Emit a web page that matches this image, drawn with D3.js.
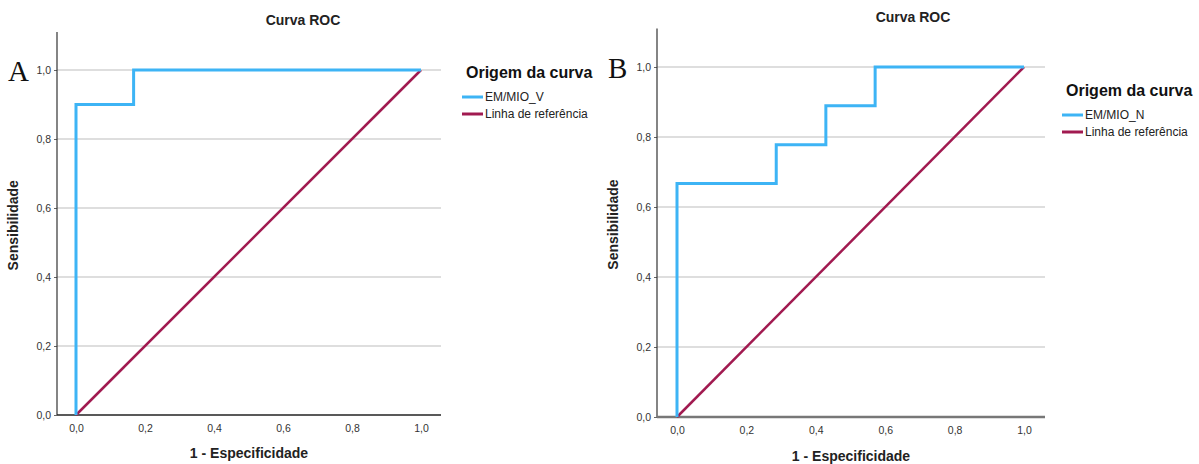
<!DOCTYPE html>
<html>
<head>
<meta charset="utf-8">
<script src="https://cdn.jsdelivr.net/npm/d3@7"></script>
<style>
body { margin: 0; background: #fff; }
text { font-family: "Liberation Sans", Arial, sans-serif; }
text.letter { font-family: "Liberation Serif", "Times New Roman", serif; }
</style>
</head>
<body>
<script>
// data
var ticks = [0, 0.2, 0.4, 0.6, 0.8, 1.0];
var rocA_x = [0, 0, 0.167, 0.167, 1];
var rocA_y = [0, 0.9, 0.9, 1, 1];
var rocB_x = [0, 0, 0.286, 0.286, 0.429, 0.429, 0.571, 0.571, 1];
var rocB_y = [0, 0.667, 0.667, 0.778, 0.778, 0.889, 0.889, 1, 1];
var refLine = [0, 1];
var seriesNames = ["EM/MIO_V", "EM/MIO_N"];

var width = 1199, height = 464;
var blue = "#3db4f5", maroon = "#a11a50";

var svg = d3.select("body").append("svg")
    .attr("width", width)
    .attr("height", height);

var fmt = function(d) { return d3.format(".1f")(d).replace(".", ","); };

function drawPanel(p) {
  var x = d3.scaleLinear().domain([0, 1]).range([p.x0, p.x1]);
  var y = d3.scaleLinear().domain([0, 1]).range([p.y0, p.y1]);
  var g = svg.append("g");

  // grid
  g.selectAll(".grid")
    .data(ticks.slice(1))
    .enter().append("line")
      .attr("x1", p.axL).attr("x2", p.axR)
      .attr("y1", function(d) { return y(d); })
      .attr("y2", function(d) { return y(d); })
      .attr("stroke", "#bdbdbd").attr("stroke-width", 1);

  // axes
  var yAxis = g.append("g")
      .attr("transform", "translate(" + p.axL + ",0)")
      .call(d3.axisLeft(y).tickValues(ticks).tickFormat(fmt).tickSize(3).tickSizeOuter(0));
  yAxis.select(".domain").remove();
  g.append("line")
      .attr("x1", p.axL).attr("x2", p.axL)
      .attr("y1", y(1.11)).attr("y2", p.y0)
      .attr("stroke", "#333").attr("stroke-width", 1.2);

  var xAxis = g.append("g")
      .attr("transform", "translate(0," + p.y0 + ")")
      .call(d3.axisBottom(x).tickValues(ticks).tickFormat(fmt).tickSize(0));
  xAxis.select(".domain").remove();
  g.append("line")
      .attr("x1", p.axL).attr("x2", p.axR)
      .attr("y1", p.y0).attr("y2", p.y0)
      .attr("stroke", p.xAxisColor).attr("stroke-width", p.xAxisWidth);

  g.selectAll(".tick text")
      .attr("font-size", 10.5)
      .attr("fill", "#333");
  yAxis.selectAll(".tick line").attr("stroke", "#666");
  xAxis.selectAll(".tick text").attr("dy", "1.3em");

  // curves
  var line = d3.line()
      .x(function(d) { return x(d[0]); })
      .y(function(d) { return y(d[1]); });

  g.append("path")
      .datum(d3.zip(refLine, refLine))
      .attr("d", line)
      .attr("fill", "none")
      .attr("stroke", maroon)
      .attr("stroke-width", 2.5);

  g.append("path")
      .datum(d3.zip(p.rx, p.ry))
      .attr("d", line)
      .attr("fill", "none")
      .attr("stroke", blue)
      .attr("stroke-width", 3);

  // titles
  g.append("text")
      .attr("x", p.titleX).attr("y", p.titleY)
      .attr("text-anchor", "middle")
      .attr("font-size", 14).attr("font-weight", "bold")
      .attr("fill", "#222")
      .text("Curva ROC");

  g.append("text")
      .attr("x", (p.axL + p.axR) / 2).attr("y", p.xTitleY)
      .attr("text-anchor", "middle")
      .attr("font-size", 14).attr("font-weight", "bold")
      .attr("fill", "#222")
      .text("1 - Especificidade");

  g.append("text")
      .attr("transform", "translate(" + (p.axL - 39) + "," + y(0.55) + ") rotate(-90)")
      .attr("text-anchor", "middle")
      .attr("font-size", 14).attr("font-weight", "bold")
      .attr("fill", "#222")
      .text("Sensibilidade");

  g.append("text")
      .attr("class", "letter")
      .attr("x", p.letterX).attr("y", y(1) + 11)
      .attr("font-size", 29)
      .attr("fill", "#111")
      .text(p.letter);

  // legend
  var lg = g.append("g").attr("transform", "translate(" + p.legX + "," + p.legY + ")");
  lg.append("text")
      .attr("x", 4).attr("y", 0)
      .attr("font-size", 16).attr("font-weight", "bold")
      .attr("fill", "#111")
      .text("Origem da curva");
  var items = [{name: p.name, color: blue}, {name: "Linha de referência", color: maroon}];
  lg.selectAll(".item")
    .data(items)
    .enter().append("g")
      .attr("transform", function(d, i) { return "translate(0," + (19 + i * 17) + ")"; })
      .each(function(d) {
        var it = d3.select(this);
        it.append("line")
          .attr("x1", 0).attr("x2", 21).attr("y1", 0).attr("y2", 0)
          .attr("stroke", d.color).attr("stroke-width", 3);
        it.append("text")
          .attr("x", 23).attr("y", 4)
          .attr("font-size", 12)
          .attr("fill", "#222")
          .text(d.name);
      });
}

drawPanel({x0: 76, x1: 421, y0: 415, y1: 70, axL: 57, axR: 441,
  rx: rocA_x, ry: rocA_y, name: seriesNames[0], letter: "A", letterX: 8,
  titleX: 303, titleY: 25, xTitleY: 458, legX: 462, legY: 78,
  xAxisColor: "#222", xAxisWidth: 1.5});

drawPanel({x0: 677, x1: 1024, y0: 417, y1: 67, axL: 657, axR: 1045,
  rx: rocB_x, ry: rocB_y, name: seriesNames[1], letter: "B", letterX: 608,
  titleX: 913, titleY: 22, xTitleY: 461, legX: 1062, legY: 96,
  xAxisColor: "#777", xAxisWidth: 2.5});
</script>
</body>
</html>
